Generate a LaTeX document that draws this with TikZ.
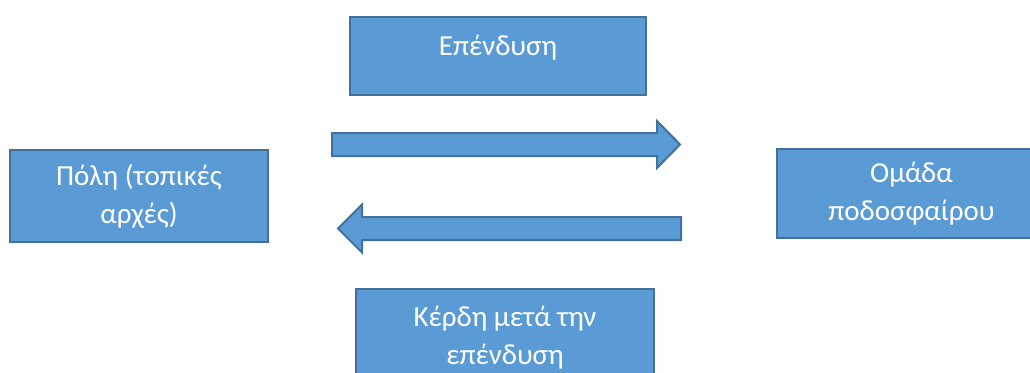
\documentclass[tikz,border=0pt]{standalone}
\usepackage{fontspec}
\setmainfont{Carlito}
\usetikzlibrary{positioning, calc}
\definecolor{boxfill}{HTML}{5B9BD5}
\definecolor{boxline}{HTML}{41719C}
\tikzset{
  box/.style={
	draw=boxline, % dark blue frame
	line width=2.5pt,
	fill=boxfill,
	text=white,
	align=center,
	inner sep=0pt,
	font=\fontsize{29}{38}\selectfont, % text as large as in the slide
  },
  boxlabel/.style={
	text=white,
	align=center,
	inner sep=0pt,
	anchor=base, % base of the last line
	font=\fontsize{29}{38}\selectfont,
  },
  blockarrow/.style={
	draw=boxline, line width=2pt, fill=boxfill, line join=miter,
  }
}

\begin{document}
\begin{tikzpicture}[x=1pt, y=-1pt]
		\clip (0,0) rectangle (1030,372);

		% Boxes
		\node [box, minimum width=258, minimum height=92] (city) at (139,196) {Πόλη (τοπικές\\αρχές)};
		\node [box, minimum width=269, minimum height=89] (team) at (911.5,193.5) {Ομάδα\\ποδοσφαίρου};
		\node [box, minimum width=296, minimum height=78,
			label={[boxlabel, yshift=-39.5pt]north:Επένδυση}] (invest) at (498,56) {};
		\node [box, minimum width=298, minimum height=100,
			label={[boxlabel, yshift=-77pt]north:Κέρδη μετά την\\επένδυση}] (profit) at (505,339) {};

		% Block arrows
		\coordinate (inA) at (332,144.5);
		\coordinate (inB) at (680,144.5);
		\draw [blockarrow] ($(inA)+(0,-11.5)$) -- ($(inB)+(-23,-11.5)$) -- ($(inB)+(-23,-23.5)$) -- (inB)
			-- ($(inB)+(-23,23.5)$) -- ($(inB)+(-23,11.5)$) -- ($(inA)+(0,11.5)$) -- cycle;

		\coordinate (outA) at (681,228.5);
		\coordinate (outB) at (338,228.5);
		\draw [blockarrow] ($(outA)+(0,-11.5)$) -- ($(outB)+(24,-11.5)$) -- ($(outB)+(24,-24)$) -- (outB)
			-- ($(outB)+(24,24)$) -- ($(outB)+(24,11.5)$) -- ($(outA)+(0,11.5)$) -- cycle;

\end{tikzpicture}
\end{document}
